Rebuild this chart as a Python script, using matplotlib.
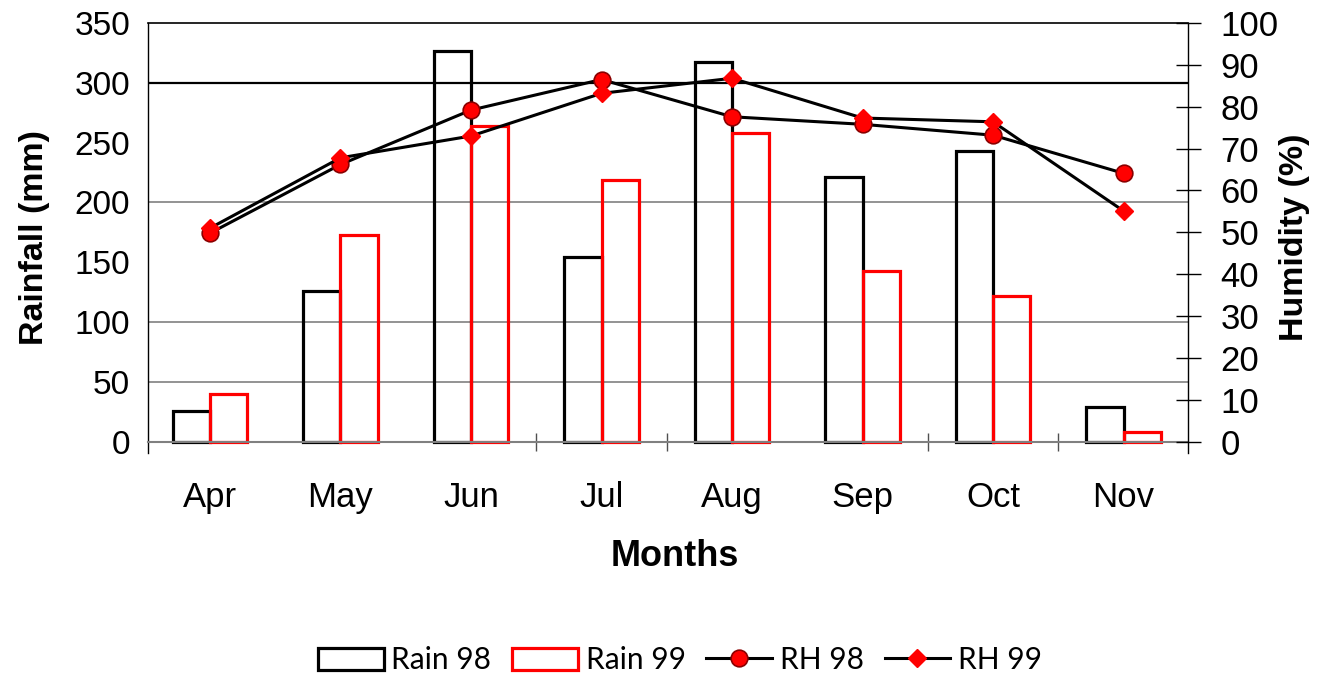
import matplotlib
matplotlib.use("Agg")
import matplotlib.pyplot as plt
import numpy as np

# Monthly rainfall (mm) and relative humidity (%) for two seasons
months = ["Apr", "May", "Jun", "Jul", "Aug", "Sep", "Oct", "Nov"]
rain_98 = [26, 126, 327, 154, 317, 221, 243, 29]
rain_99 = [40, 173, 264, 219, 258, 143, 122, 8]
rh_98 = [49.8, 66.2, 79.2, 86.5, 77.6, 75.8, 73.2, 64.1]
rh_99 = [51.0, 67.8, 73.0, 83.2, 86.8, 77.3, 76.4, 55.1]

rain_ticks = list(range(0, 351, 50))
rh_ticks = list(range(0, 101, 10))

plt.rcParams["font.family"] = ["Liberation Sans", "DejaVu Sans"]

W, H = 1328, 677
fig = plt.figure(figsize=(W / 100, H / 100), dpi=100)
ax = fig.add_axes([148 / W, 1 - 453 / H, 1040 / W, 430 / H])

x = np.arange(len(months))
w = 0.285

b98 = ax.bar(x - w / 2, rain_98, width=w, facecolor="none", edgecolor="black",
             linewidth=2.3, label="Rain 98", zorder=2)
b99 = ax.bar(x + w / 2, rain_99, width=w, facecolor="none", edgecolor="red",
             linewidth=2.3, label="Rain 99", zorder=2)

ax.set_xlim(-0.475, 7.494)
ax.set_ylim(-9.5, 350)

# horizontal reference lines
for v in (50, 100, 200):
    ax.axhline(v, color="#808080", lw=1.2, zorder=1)
ax.axhline(300, color="black", lw=1.6, zorder=1)

# spines
ax.spines["right"].set_visible(False)
ax.spines["top"].set_color("black")
ax.spines["top"].set_linewidth(1.2)
ax.spines["left"].set_linewidth(1.0)
ax.spines["bottom"].set_position(("data", 0))
ax.spines["bottom"].set_color("#808080")
ax.spines["bottom"].set_linewidth(1.5)

# x axis: month labels at centres, tick marks between some categories
ax.set_xticks(x)
ax.set_xticklabels(months)
ax.set_xticks([2.5, 3.5, 5.5, 6.5], minor=True)
ax.tick_params(axis="x", which="major", length=0, pad=28, labelsize=25)
ax.tick_params(axis="x", which="minor", direction="inout", length=13,
               width=1.0, color="#505050")

# left axis
ax.set_yticks(rain_ticks)
ax.set_yticks([0, 50, 100, 200, 300, 350], minor=True)
ax.tick_params(axis="y", which="major", length=0, pad=13, labelsize=24)
ax.tick_params(axis="y", which="minor", direction="out", length=7.5, width=1.0)

# right axis: humidity
ax2 = ax.twinx()
ax2.set_ylim(-9.5 / 3.5, 100)
for s in ("left", "top", "bottom"):
    ax2.spines[s].set_visible(False)
ax2.spines["right"].set_linewidth(1.0)
ax2.set_yticks(rh_ticks)
ax2.tick_params(axis="y", direction="inout", length=18, width=1.0, pad=14.5,
                labelsize=25)

l98, = ax2.plot(x, rh_98, color="black", lw=2.2, marker="o", ms=12,
                mfc="red", mec="#8b0000", mew=1.2, label="RH 98", zorder=3)
l99, = ax2.plot(x, rh_99, color="black", lw=2.2, marker="D", ms=9,
                mfc="red", mec="red", mew=1.0, label="RH 99", zorder=3)

# axis titles
fig.text(35 / W, 1 - 237 / H, "Rainfall (mm)", rotation=90, fontsize=24.5,
         fontweight="bold", ha="center", va="center")
fig.text(1294 / W, 1 - 237 / H, "Humidity (%)", rotation=90, fontsize=24.5,
         fontweight="bold", ha="center", va="center")
fig.text(675 / W, 1 - 557 / H, "Months", fontsize=26, fontweight="bold",
         ha="center", va="center")

fig.legend([b98, b99, l98, l99], ["Rain 98", "Rain 99", "RH 98", "RH 99"],
           loc="center", bbox_to_anchor=(680 / W, 1 - 660 / H), ncol=4,
           frameon=False, prop={"family": ["Lato", "DejaVu Sans"], "size": 21.5},
           handlelength=2.2, handleheight=0.75, handletextpad=0.25,
           columnspacing=0.7, borderpad=0)

fig.savefig("out.png", dpi=100)
